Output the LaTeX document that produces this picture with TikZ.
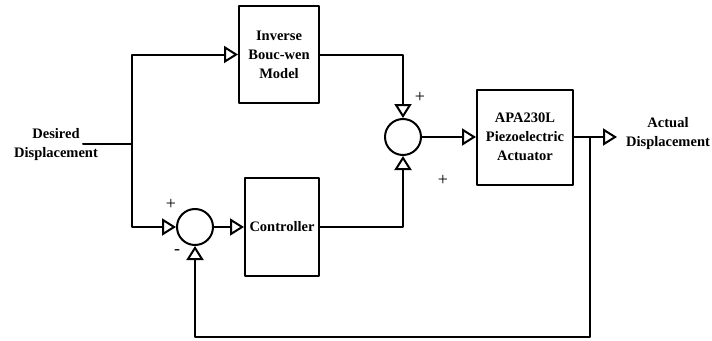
\documentclass[tikz,border=0pt]{standalone}
\usepackage{fontspec}
\setmainfont{Liberation Serif}
\usetikzlibrary{arrows.meta}

\begin{document}
\begin{tikzpicture}[
			x=1pt, y=-1pt,
			line width=2pt,
			line cap=round,
			line join=round,
			block/.style={draw, rectangle, inner sep=2pt, align=center, font=\fontsize{14.5}{19}\selectfont\bfseries},
			sumnode/.style={draw, circle, minimum size=36pt, inner sep=0pt},
			lbl/.style={align=center, font=\fontsize{14.5}{19}\selectfont\bfseries},
			sgn/.style={font=\fontsize{18}{20}\selectfont},
			conn/.style={-{Triangle[open, length=14pt, width=17pt, fill=white]}}
			]
			\useasboundingbox (0,0) rectangle (712,340);
			\node[block, minimum width=80pt, minimum height=97pt] (inv) at (279,54.5) {Inverse\\Bouc-wen\\Model};
			\node[block, minimum width=74pt, minimum height=98pt] (ctrl) at (282,227) {Controller};
			\node[block, minimum width=96pt, minimum height=95pt] (apa) at (525,137) {APA230L\\Piezoelectric\\Actuator};
			
			\node[sumnode] (sum1) at (195,227) {};
			\node[sumnode] (sum2) at (403,137) {};
			
			\node[lbl] (desired) at (56,144.5) {Desired\\Displacement};
			\node[lbl] (actual) at (668,133.5) {Actual\\Displacement};
			
			\node[sgn] (p1) at (171,204) {+};
			\node[sgn] (m1) at (177,252) {-};
			\node[sgn] (p2) at (420,97) {+};
			\node[sgn] (p3) at (443,180) {+};
			
			\coordinate (in) at (83,144);
			\coordinate (branch) at (132,144);
			\coordinate (out) at (617,137);
			\coordinate (fb) at (590,137);
			\coordinate (fbc) at (590,337);
			
			\draw (in) -- (branch);
			\draw[conn] (branch) |- (inv.west);
			\draw[conn] (branch) |- (sum1.west);
			\draw[conn] (sum1.east) -- (ctrl.west);
			\draw[conn] (inv.east) -| (sum2.north);
			\draw[conn] (ctrl.east) -| (sum2.south);
			\draw[conn] (sum2.east) -- (apa.west);
			\draw[conn] (apa.east) -- (out);
			\draw[conn] (fb) -- (fbc) -| (sum1.south);
		\end{tikzpicture}
\end{document}
